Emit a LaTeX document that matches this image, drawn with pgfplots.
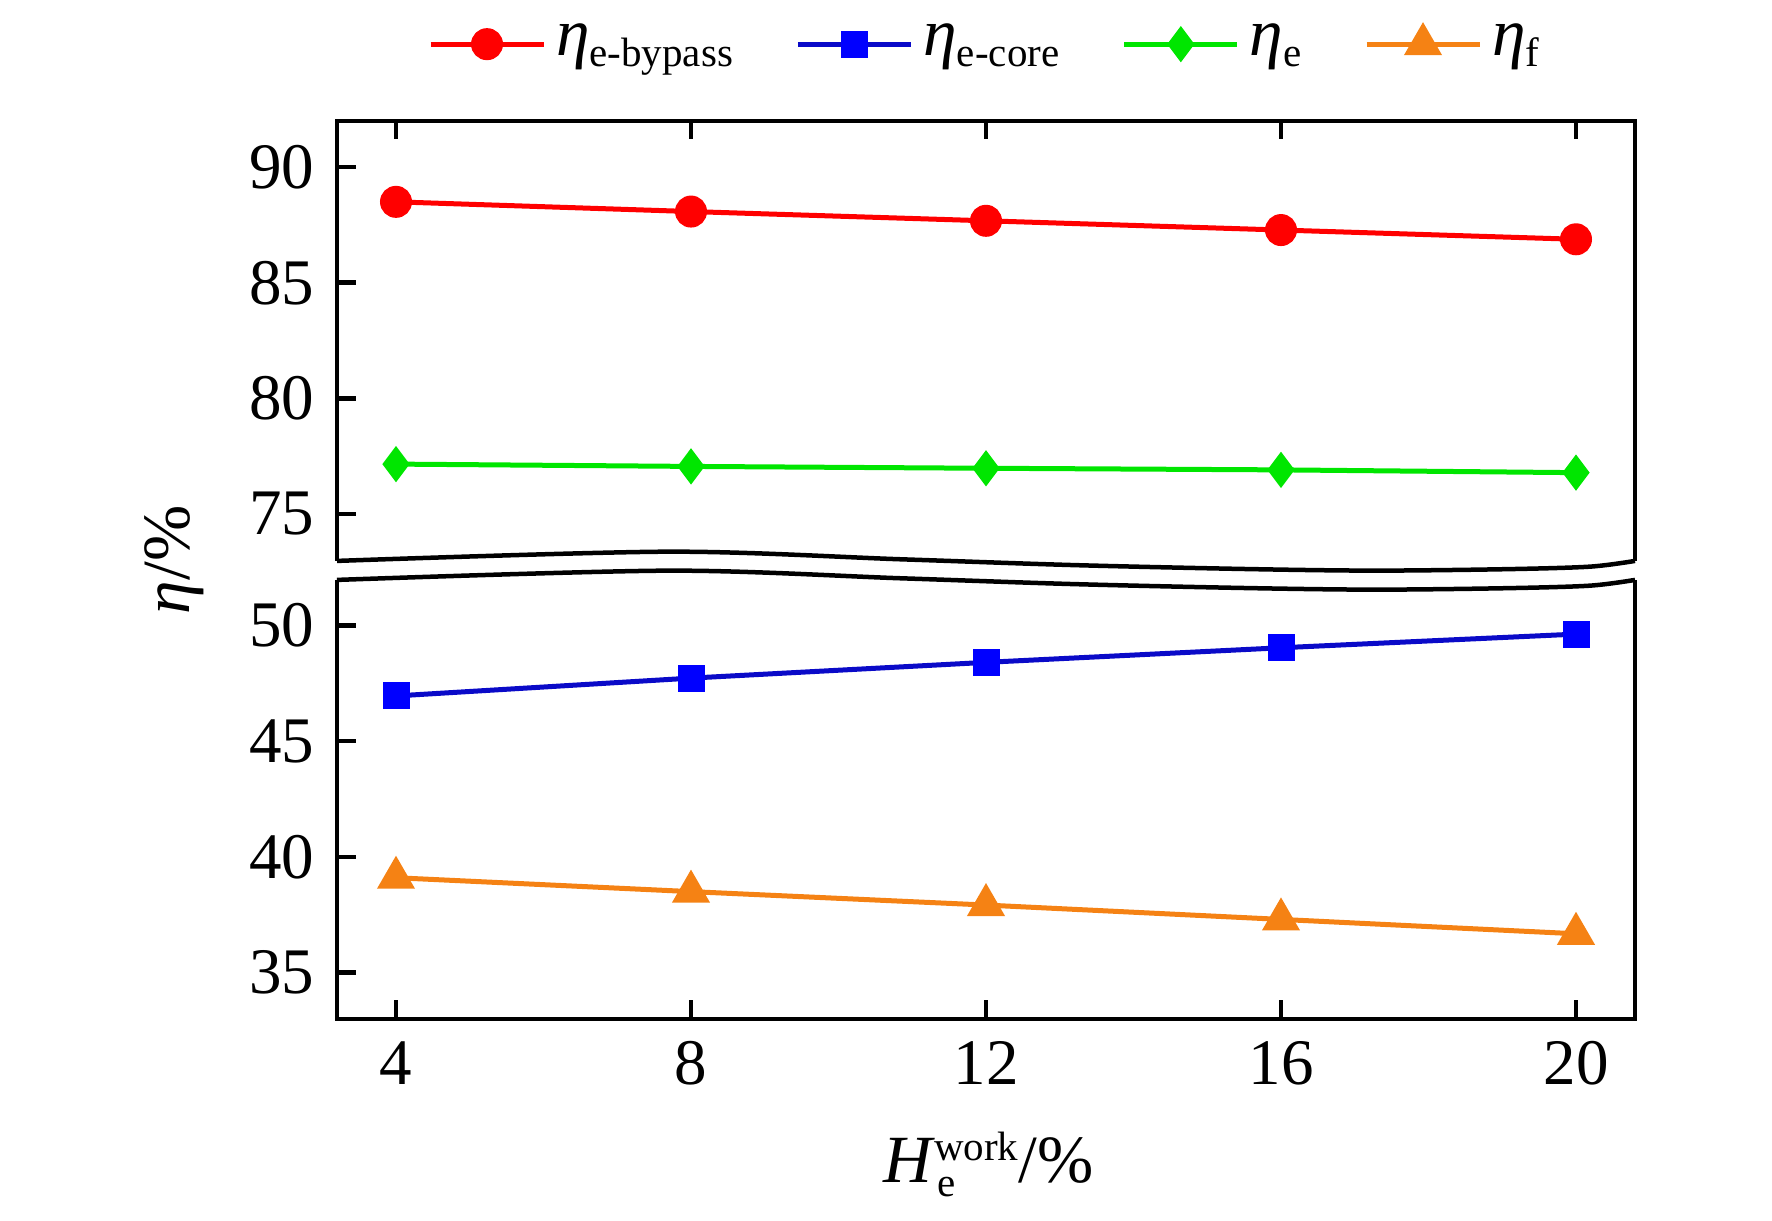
\documentclass[border=0pt]{standalone}
\usepackage{pgfplots}
\pgfplotsset{compat=1.18}
\usepackage{fontspec}
\setmainfont{Liberation Serif}
\definecolor{cred}{RGB}{255,0,0}
\definecolor{cblue}{RGB}{0,0,255}
\definecolor{cblueline}{RGB}{10,10,200}
\definecolor{cgreen}{RGB}{0,230,0}
\definecolor{corange}{RGB}{245,130,20}
\newcommand{\subs}[1]{\raisebox{-2.2pt}{\fontsize{8.2}{9}\selectfont #1}}
\pgfplotsset{
  mybase/.style={
    scale only axis, width=259.6pt, height=88pt,
    xmin=3.2, xmax=20.8,
    xtick={4,8,12,16,20},
    tick align=inside,
    major tick length=3.7pt,
    axis line style={draw=none},
    tick style={black, line width=0.9pt},
    clip=false,
    ytick pos=left,
    /pgf/number format/assume math mode=true,
    tick label style={font=\fontsize{13}{15}\selectfont},
    label style={font=\fontsize{13.5}{15}\selectfont},
    legend image code/.code={\draw[mark repeat=2,mark phase=2,##1] plot coordinates {(0pt,0pt) (11.3pt,0pt) (22.6pt,0pt)};},
  },
  frame/.style={black, line width=0.9pt, no marks, forget plot},
}
\begin{document}
\fontsize{13}{15}\selectfont
\begin{tikzpicture}
\path[use as bounding box] (0,0) rectangle (354.4pt,244.2pt);
% lower panel
\begin{axis}[mybase,
  at={(67.4pt,40.4pt)}, anchor=south west,
  ymin=33, ymax=52,
  ytick={35,40,45,50},
  xtick pos=left,
  xlabel={{\itshape H}\rlap{\raisebox{-2.8pt}{\fontsize{8.2}{9}\selectfont\kern1pt e}}\raisebox{4.4pt}{\fontsize{8.2}{9}\selectfont\kern0.3pt work}/\%},
  xlabel style={at={(axis description cs:0.502,-0.33)}, anchor=center},
]
\addplot[cblueline, line width=1pt, mark=square*, mark size=2.2pt, mark options={fill=cblue, draw=cblue}]
  coordinates {(4,46.95) (8,47.72) (12,48.4) (16,49.03) (20,49.62)};
\addplot[corange, line width=1pt, mark=triangle*, mark size=3.4pt, mark options={fill=corange, draw=corange}]
  coordinates {(4,39.1) (8,38.5) (12,37.92) (16,37.3) (20,36.68)};
\addplot[frame] coordinates {(3.2,51.96) (3.2,33) (20.8,33) (20.8,51.96)};
\addplot[frame, smooth] coordinates {(3.2,51.96) (7.7,52.36) (10.85,52.03) (13.18,51.78) (15.51,51.61) (17.26,51.54) (19.01,51.60) (20.18,51.71) (20.8,51.96)};
\end{axis}
% upper panel
\begin{axis}[mybase,
  at={(67.4pt,132.2pt)}, anchor=south west,
  height=87.8pt,
  ymin=73, ymax=92,
  ytick={75,80,85,90},
  xtick pos=right,
  xticklabels={},
  ylabel={\textit{η}/\%},
  ylabel style={at={(axis description cs:-0.125,0.0)}, anchor=center, rotate=0},
  legend columns=4,
  legend style={at={(axis description cs:0.502,1.175)}, anchor=center, draw=none, fill=none,
    font=\fontsize{13.5}{15}\selectfont,
    /tikz/every even column/.append style={column sep=10.5pt}},
  legend cell align=left,
]
\addplot[cred, line width=1pt, mark=*, mark size=2.7pt, mark options={fill=cred, draw=cred}]
  coordinates {(4,88.5) (8,88.08) (12,87.68) (16,87.28) (20,86.88)};
\addlegendentry{\textit{η}\subs{e-bypass}}
\addlegendimage{cblueline, line width=1pt, mark=square*, mark size=2.2pt, mark options={fill=cblue, draw=cblue}}
\addlegendentry{\textit{η}\subs{e-core}}
\addplot[cgreen, line width=1pt, mark=diamond*, mark size=2.8pt, mark options={fill=cgreen, draw=cgreen}]
  coordinates {(4,77.15) (8,77.05) (12,76.97) (16,76.9) (20,76.78)};
\addlegendentry{\textit{η}\subs{e}}
\addlegendimage{corange, line width=1pt, mark=triangle*, mark size=3.4pt, mark options={fill=corange, draw=corange}}
\addlegendentry{\textit{η}\subs{f}}
\addplot[frame] coordinates {(3.2,72.96) (3.2,92) (20.8,92) (20.8,72.96)};
\addplot[frame, smooth] coordinates {(3.2,72.96) (7.7,73.36) (10.85,73.03) (13.18,72.78) (15.51,72.61) (17.26,72.54) (19.01,72.60) (20.18,72.71) (20.8,72.96)};
\end{axis}
\end{tikzpicture}
\end{document}
